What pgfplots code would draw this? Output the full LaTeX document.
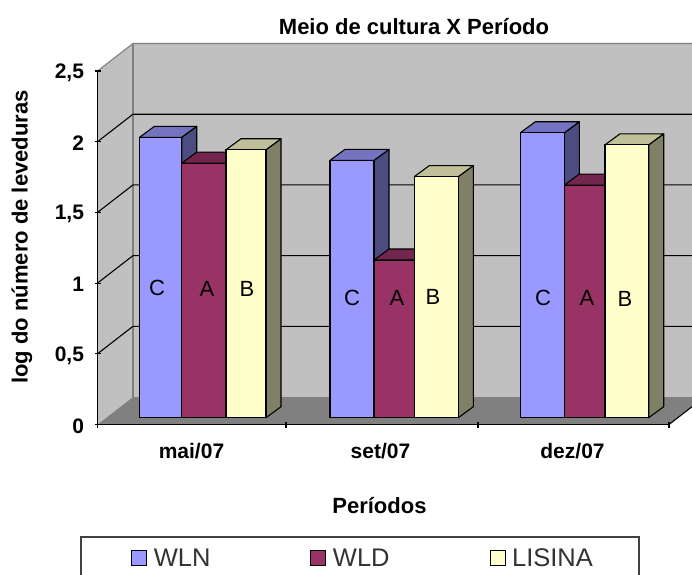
\documentclass[border=0pt]{standalone}
\usepackage{fontspec}
\setmainfont{Liberation Sans}
\usepackage{pgfplots}
\pgfplotsset{compat=1.18}
\definecolor{wlnF}{HTML}{9999FF}\definecolor{wlnT}{HTML}{7373BF}\definecolor{wlnS}{HTML}{4C4C80}
\definecolor{wldF}{HTML}{993366}\definecolor{wldT}{HTML}{73264D}\definecolor{wldS}{HTML}{4D1A33}
\definecolor{lisF}{HTML}{FFFFCC}\definecolor{lisT}{HTML}{BFBF99}\definecolor{lisS}{HTML}{808066}
\definecolor{wall}{HTML}{C0C0C0}\definecolor{floorc}{HTML}{808080}
% x0, x1 in picture units along the axis, value, colours front/top/side
\newcommand{\barthree}[6]{%
  \pgfmathsetmacro\xc{(#1+#2)/2}%
  \pgfmathsetmacro\bw{#2-#1}%
  \pgfmathsetmacro\yf{#3+0.0481}%
  \pgfmathsetmacro\yb{#3+0.1259}%
  \pgfmathsetmacro\xr{#2+15}%
  \pgfmathsetmacro\xl{#1+15}%
  \edef\doit{%
    \noexpand\addplot[fill=#6,draw=black,line width=1.1pt,line join=round,forget plot] coordinates {(#2,0.0481) (\xr,0.1259) (\xr,\yb) (#2,\yf)} --cycle;
    \noexpand\addplot[fill=#5,draw=black,line width=1.1pt,line join=round,forget plot] coordinates {(#1,\yf) (#2,\yf) (\xr,\yb) (\xl,\yb)} --cycle;
    \noexpand\addplot[ybar,bar shift=0pt,bar width=\bw pt,yshift=6.8pt,fill=#4,draw=black,line width=1.1pt,forget plot] coordinates {(\xc,#3)};
  }\doit}
\begin{document}
\begin{tikzpicture}[x=1pt,y=1pt]
\path[use as bounding box] (0,0) rectangle (692,-574);
\begin{axis}[
  at={(97.5pt,-424.5pt)},anchor=south west,
  scale only axis,width=571.5pt,height=353.5pt,
  xmin=97.5,xmax=669,ymin=0,ymax=2.5,
  clip=false,axis on top,
  axis x line=bottom,axis y line=left,
  axis line style={-,black,line width=1.1pt},
  ytick={0,0.5,1,1.5,2,2.5},
  yticklabels={0,{0,5},1,{1,5},2,{2,5}},
  xtick={97.5,286,478,669},
  xticklabels={},
  extra x ticks={191.5,380.5,572.5},
  extra x tick labels={mai/07,set/07,dez/07},
  extra x tick style={tick style={draw=none}},
  tick style={black,line width=1.1pt},
  major tick length=6pt,
  tick label style={font=\fontsize{21}{24}\selectfont\bfseries},
  xticklabel style={yshift=-12pt},
  yticklabel style={xshift=-7pt,yshift=-1.5pt},
  title={Meio de cultura X Período},
  xlabel={Períodos},
  ylabel={log do número de leveduras},
  every axis title/.style={at={(axis description cs:0.5538,1.127)},anchor=center,font=\fontsize{22}{24}\selectfont\bfseries},
  every axis x label/.style={at={(axis description cs:0.4934,-0.2305)},anchor=center,font=\fontsize{22}{24}\selectfont\bfseries},
  every axis y label/.style={at={(axis description cs:-0.1321,0.5304)},anchor=center,rotate=90,font=\fontsize{22}{24}\selectfont\bfseries},
  legend columns=3,
  legend cell align=left,
  legend style={at={(axis description cs:-0.0306,-0.3154)},anchor=north west,
    draw=black!75,line width=1.5pt,fill=white,
    font=\fontsize{25.5}{28}\selectfont\color{black!80},
    inner xsep=44pt,inner ysep=10pt,
    /tikz/every even column/.append style={column sep=91.5pt}},
  legend image code/.code={\path[draw=none,fill=none] (0pt,0pt) -- (27pt,0pt);\draw[line width=1.1pt,#1] (7pt,-7.5pt) rectangle (22pt,7.5pt);},
]
% walls and floor
\addplot[fill=wall,draw=none,forget plot] coordinates {(97.5,0) (133,0.1945) (133,2.6945) (97.5,2.5)} --cycle;
\addplot[fill=wall,draw=none,forget plot] coordinates {(133,0.1945) (692,0.1945) (692,2.6945) (133,2.6945)} --cycle;
\addplot[fill=floorc,draw=none,forget plot] coordinates {(97.5,0) (133,0.1945) (692,0.1945) (692,0.126) (669,0)} --cycle;
\addplot[floorc,line width=1.1pt,forget plot] coordinates {(97.5,2.5) (133,2.6945) (692,2.6945)};
\addplot[floorc,line width=1.1pt,forget plot] coordinates {(133,0.1945) (133,2.6945)};
% gridlines
\addplot[black,line width=1.1pt,forget plot] coordinates {(97.5,0.5) (133,0.6945) (692,0.6945)};
\addplot[black,line width=1.1pt,forget plot] coordinates {(97.5,1) (133,1.1945) (692,1.1945)};
\addplot[black,line width=1.1pt,forget plot] coordinates {(97.5,1.5) (133,1.6945) (692,1.6945)};
\addplot[black,line width=1.1pt,forget plot] coordinates {(97.5,2) (133,2.1945) (692,2.1945)};
\addplot[black,line width=1.1pt,forget plot] coordinates {(669,0) (692,0.126)};
% bars
\barthree{139.5}{181.7}{1.983}{wlnF}{wlnT}{wlnS}
\barthree{330}{374}{1.82}{wlnF}{wlnT}{wlnS}
\barthree{520.3}{564.3}{2.015}{wlnF}{wlnT}{wlnS}
\barthree{181.7}{226}{1.80}{wldF}{wldT}{wldS}
\barthree{374}{414.3}{1.115}{wldF}{wldT}{wldS}
\barthree{564.3}{605}{1.645}{wldF}{wldT}{wldS}
\barthree{226}{266}{1.895}{lisF}{lisT}{lisS}
\barthree{414.3}{458.3}{1.705}{lisF}{lisT}{lisS}
\barthree{605}{648.7}{1.93}{lisF}{lisT}{lisS}
\addlegendimage{fill=wlnF,draw=black}\addlegendentry{WLN}
\addlegendimage{fill=wldF,draw=black}\addlegendentry{WLD}
\addlegendimage{fill=lisF,draw=black}\addlegendentry{LISINA}
% letters
\begin{scope}[every node/.style={font=\fontsize{22}{24}\selectfont,text=black}]
\node at (axis cs:157,0.965) {C};
\node at (axis cs:207,0.958) {A};
\node at (axis cs:247,0.958) {B};
\node at (axis cs:352,0.895) {C};
\node at (axis cs:397,0.895) {A};
\node at (axis cs:433,0.902) {B};
\node at (axis cs:543,0.895) {C};
\node at (axis cs:587,0.895) {A};
\node at (axis cs:625,0.888) {B};
\end{scope}
\end{axis}
\end{tikzpicture}
\end{document}
